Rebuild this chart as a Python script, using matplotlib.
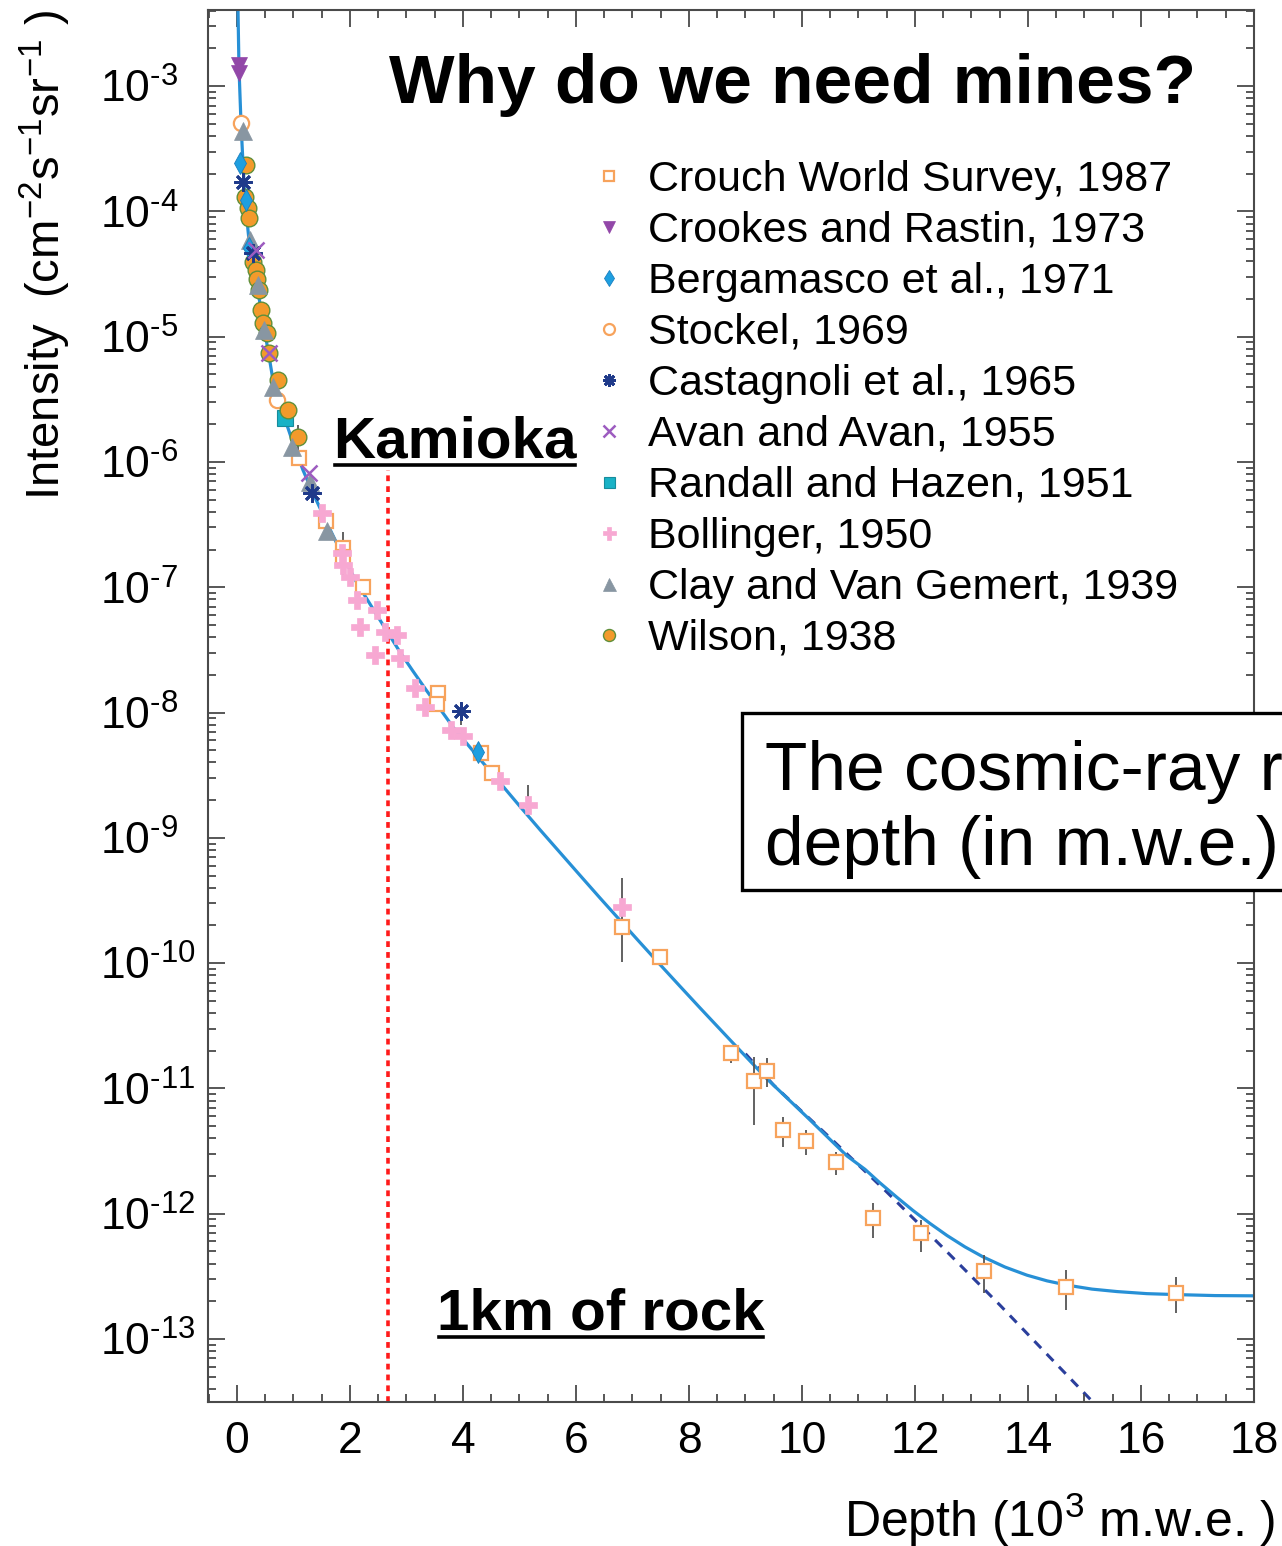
import math
import matplotlib
matplotlib.use("Agg")
import matplotlib.pyplot as plt
from matplotlib.lines import Line2D
from matplotlib.patches import Rectangle
from matplotlib.ticker import FixedLocator, LogLocator, MultipleLocator, NullFormatter, FuncFormatter

plt.rcParams['font.family'] = ['Liberation Sans', 'DejaVu Sans']
plt.rcParams['mathtext.fontset'] = 'custom'
plt.rcParams['mathtext.rm'] = 'Liberation Sans'
plt.rcParams['mathtext.it'] = 'Liberation Sans:italic'
plt.rcParams['mathtext.bf'] = 'Liberation Sans:bold'
plt.rcParams['axes.unicode_minus'] = False

# ---------------- data (depth in 10^3 m.w.e., intensity in cm^-2 s^-1 sr^-1) ----------------
curve_depth = [0.018, 0.035, 0.071, 0.106, 0.142, 0.230, 0.354, 0.460, 0.549, 0.637,
               0.814, 0.991, 1.168, 1.345, 1.593, 1.823, 2.124, 2.531, 2.885, 3.115,
               3.363, 3.593, 3.823, 4.124, 4.354, 4.655, 5.009, 5.363, 5.717, 6.071,
               6.425, 6.814, 7.133, 7.487, 7.841, 8.195, 8.726, 9.381, 10.088, 10.796,
               11.115, 11.381, 11.681, 11.965, 12.265, 12.566, 12.885, 13.204, 13.593,
               13.982, 14.336, 14.690, 15.133, 15.575, 16.106, 16.637, 17.310, 18.0]
curve_intensity = [4.05e-3, 1.42e-3, 5.07e-4, 2.43e-4, 1.23e-4, 4.91e-5, 2.58e-5, 1.31e-5,
                   7.82e-6, 4.51e-6, 2.45e-6, 1.42e-6, 8.61e-7, 5.65e-7, 3.25e-7, 1.98e-7,
                   1.08e-7, 5.47e-8, 3.04e-8, 2.14e-8, 1.48e-8, 1.07e-8, 7.66e-9, 5.28e-9,
                   3.97e-9, 2.75e-9, 1.78e-9, 1.16e-9, 7.63e-10, 5.02e-10, 3.31e-10, 2.11e-10,
                   1.46e-10, 9.74e-11, 6.53e-11, 4.39e-11, 2.44e-11, 1.19e-11, 5.91e-12,
                   2.89e-12, 2.26e-12, 1.76e-12, 1.35e-12, 1.06e-12, 8.36e-13, 6.70e-13,
                   5.43e-13, 4.52e-13, 3.75e-13, 3.23e-13, 2.91e-13, 2.69e-13, 2.50e-13,
                   2.39e-13, 2.30e-13, 2.26e-13, 2.22e-13, 2.21e-13]

# muons without the neutrino-induced floor
dashed_depth = [9.0, 9.5, 10.5, 11.5, 12.5, 13.5, 14.5, 15.2]
dashed_intensity = [1.89e-11, 1.06e-11, 4.02e-12, 1.49e-12, 5.32e-13, 1.87e-13, 6.32e-14, 2.97e-14]

crouch_depth = [1.097, 1.575, 1.876, 1.876, 2.230, 3.558, 3.540, 4.319, 4.513, 6.814, 7.487,
                8.743, 9.150, 9.381, 9.664, 10.071, 10.602, 11.257, 12.106, 13.221, 14.673, 16.619]
crouch_intensity = [1.07e-6, 3.37e-7, 2.06e-7, 1.74e-7, 1.00e-7, 1.43e-8, 1.17e-8, 4.75e-9,
                    3.29e-9, 1.94e-10, 1.12e-10, 1.92e-11, 1.15e-11, 1.38e-11, 4.66e-12,
                    3.80e-12, 2.59e-12, 9.25e-13, 7.02e-13, 3.49e-13, 2.60e-13, 2.33e-13]

crookes_depth = [0.035, 0.035]
crookes_intensity = [1.47e-3, 1.27e-3]

bergamasco_depth = [0.053, 0.159, 0.212, 4.265]
bergamasco_intensity = [2.43e-4, 1.23e-4, 5.09e-5, 4.84e-9]

stockel_depth = [0.071, 0.708]
stockel_intensity = [5.07e-4, 3.12e-6]

castagnoli_depth = [0.106, 0.283, 1.327, 3.965]
castagnoli_intensity = [1.71e-4, 4.65e-5, 5.65e-7, 1.03e-8]

avan_depth = [0.336, 0.566, 1.274]
avan_intensity = [4.91e-5, 7.40e-6, 8.15e-7]

randall_depth = [0.850]
randall_intensity = [2.24e-6]

bollinger_depth = [1.504, 1.858, 1.876, 2.000, 2.124, 2.478, 2.177, 2.619, 2.832, 2.442,
                   2.885, 3.150, 3.327, 3.788, 4.000, 4.655, 5.150, 6.814]
bollinger_intensity = [3.91e-7, 1.88e-7, 1.50e-7, 1.21e-7, 7.91e-8, 6.58e-8, 4.81e-8, 4.39e-8,
                       4.15e-8, 2.88e-8, 2.72e-8, 1.57e-8, 1.11e-8, 7.25e-9, 6.49e-9, 2.84e-9,
                       1.83e-9, 2.81e-10]

clay_depth = [0.106, 0.230, 0.372, 0.478, 0.637, 0.973, 1.292, 1.593]
clay_intensity = [4.38e-4, 5.90e-5, 2.58e-5, 1.13e-5, 3.96e-6, 1.32e-6, 6.92e-7, 2.81e-7]

wilson_depth = [0.159, 0.142, 0.195, 0.212, 0.283, 0.336, 0.354, 0.389, 0.425, 0.460,
                0.531, 0.566, 0.726, 0.903, 1.080]
wilson_intensity = [2.34e-4, 1.30e-4, 1.06e-4, 8.85e-5, 3.94e-5, 3.40e-5, 2.88e-5, 2.36e-5,
                    1.63e-5, 1.28e-5, 1.07e-5, 7.40e-6, 4.51e-6, 2.60e-6, 1.58e-6]

# vertical error bars
err_depth = [1.876, 6.814, 7.487, 8.743, 9.150, 9.381, 9.664, 10.071, 10.602, 11.257,
             12.106, 13.221, 14.673, 16.619, 5.150, 3.965, 1.080]
err_low = [1.18e-7, 1.02e-10, 9.66e-11, 1.60e-11, 5.11e-12, 1.03e-11, 3.40e-12, 2.94e-12,
           2.04e-12, 6.40e-13, 4.94e-13, 2.33e-13, 1.71e-13, 1.61e-13, 1.52e-9, 7.94e-9, 1.14e-6]
err_high = [2.76e-7, 4.78e-10, 1.27e-10, 1.92e-11, 1.78e-11, 1.75e-11, 5.92e-12, 4.66e-12,
            3.11e-12, 1.22e-12, 8.91e-13, 4.68e-13, 3.55e-13, 3.13e-13, 2.64e-9, 1.21e-8, 1.97e-6]

kamioka_depth = 2.67
kamioka_top = 8.6e-7

x_ticks = [0, 2, 4, 6, 8, 10, 12, 14, 16, 18]
y_tick_exponents = [-13, -12, -11, -10, -9, -8, -7, -6, -5, -4, -3]

# ---------------- figure ----------------
W, H = 1282, 1546
fig = plt.figure(figsize=(W / 100, H / 100), dpi=100)
fig.patch.set_facecolor('white')
ax = fig.add_axes([208 / W, 1 - 1402 / H, (1254 - 208) / W, (1402 - 10) / H])
ax.set_yscale('log')
ax.set_xlim(-0.513, 18.0)
ax.set_ylim(3.14e-14, 4.05e-3)

ax.plot(dashed_depth, dashed_intensity, color='#2b3f9c', lw=2.2, ls=(0, (3.2, 2.6)), zorder=1.5)
ax.plot(curve_depth, curve_intensity, color='#2790d6', lw=2.3, zorder=2,
        solid_joinstyle='round')
ax.vlines(kamioka_depth, 3.14e-14, kamioka_top, colors='#ff1a1a', lw=2.6,
          linestyles=(0, (1.6, 1.4)), zorder=1.8)
ax.vlines(err_depth, err_low, err_high, colors='#555555', lw=1.3, zorder=2.5)

styles = [
    ("Crouch World Survey, 1987", crouch_depth, crouch_intensity,
     dict(marker='s', ms=10.5, mfc='white', mec='#f7a35c', mew=1.6)),
    ("Crookes and Rastin, 1973", crookes_depth, crookes_intensity,
     dict(marker='v', ms=12, mfc='#9247a8', mec='#9247a8', mew=0.5)),
    ("Bergamasco et al., 1971", bergamasco_depth, bergamasco_intensity,
     dict(marker='d', ms=11, mfc='#1e9fe0', mec='#1a7fc0', mew=0.6)),
    ("Stockel, 1969", stockel_depth, stockel_intensity,
     dict(marker='o', ms=11, mfc='white', mec='#f7a35c', mew=1.6)),
    ("Castagnoli et al., 1965", castagnoli_depth, castagnoli_intensity,
     dict(marker=(8, 2, 0), ms=13, mfc='#1f3a8a', mec='#1f3a8a', mew=2.0)),
    ("Avan and Avan, 1955", avan_depth, avan_intensity,
     dict(marker='x', ms=12, mfc='#9d5cc0', mec='#9d5cc0', mew=1.8)),
    ("Randall and Hazen, 1951", randall_depth, randall_intensity,
     dict(marker='s', ms=11, mfc='#19b2c6', mec='#178c9c', mew=0.8)),
    ("Bollinger, 1950", bollinger_depth, bollinger_intensity,
     dict(marker='P', ms=13, mfc='#f7a8d2', mec='#f7a8d2', mew=0.5)),
    ("Clay and Van Gemert, 1939", clay_depth, clay_intensity,
     dict(marker='^', ms=13, mfc='#8896a2', mec='#8896a2', mew=0.5)),
    ("Wilson, 1938", wilson_depth, wilson_intensity,
     dict(marker='o', ms=12, mfc='#f39a2b', mec='#5f8f3a', mew=1.0)),
]

draw_order = [0, 7, 3, 6, 9, 8, 2, 4, 5, 1]
for z, i in enumerate(draw_order):
    label, xs, ys, st = styles[i]
    ax.plot(xs, ys, ls='none', zorder=3 + 0.1 * z, **st)

handles = []
for label, xs, ys, st in styles:
    st_small = dict(st)
    st_small['ms'] = st['ms'] * 0.72
    handles.append(Line2D([], [], ls='none', **st_small))
leg = ax.legend(handles, [s[0] for s in styles], loc='upper left',
                bbox_to_anchor=(592 / W, 1 - 160 / H), bbox_transform=fig.transFigure,
                frameon=False, fontsize=31, handlelength=0.78, handletextpad=0.52,
                labelspacing=0.255, borderpad=0, borderaxespad=0, numpoints=1)

# axes styling
for sp in ax.spines.values():
    sp.set_color('#4a4a4a')
    sp.set_linewidth(1.5)
ax.xaxis.set_major_locator(FixedLocator(x_ticks))
ax.xaxis.set_minor_locator(MultipleLocator(0.5))
ax.yaxis.set_major_locator(FixedLocator([10.0 ** e for e in y_tick_exponents]))
ax.yaxis.set_minor_locator(LogLocator(base=10, subs=[2, 3, 4, 5, 6, 7, 8, 9], numticks=30))
ax.yaxis.set_minor_formatter(NullFormatter())
ax.yaxis.set_major_formatter(FuncFormatter(
    lambda v, p: r'$\mathdefault{10^{%s}}$' % ('\u2010%d' % abs(round(math.log10(v))))))
ax.xaxis.set_major_formatter(FuncFormatter(lambda v, p: '%d' % v))
ax.tick_params(which='both', direction='in', top=True, right=True, color='#4a4a4a', width=1.3)
ax.tick_params(which='minor', length=6)
ax.tick_params(axis='x', which='major', length=12, labelsize=32, pad=14)
ax.tick_params(axis='y', which='major', length=12, labelsize=32, pad=(208 - 100) * 0.72)
for lab in ax.get_yticklabels():
    lab.set_horizontalalignment('left')

fig.text(1275 / W, 1 - 1537 / H, r'Depth (10$^{3}$ m.w.e. )', ha='right', va='baseline', fontsize=36)
fig.text(45 / W, 1 - 255 / H, r'Intensity  (cm$^{\mathdefault{-2}}$s$^{\mathdefault{-1}}$sr$^{\mathdefault{-1}}$ )',
         rotation=90, ha='center', va='center', fontsize=34)

fig.text(792 / W, 1 - 103 / H, 'Why do we need mines?', ha='center', va='baseline',
         fontsize=50, fontweight='bold')

# underlined annotations
k_txt = fig.text(333 / W, 1 - 458 / H, 'Kamioka', ha='left', va='baseline', fontsize=42, fontweight='bold')
r_txt = fig.text(437 / W, 1 - 1330 / H, '1km of rock', ha='left', va='baseline', fontsize=42, fontweight='bold')
fig.canvas.draw()
inv = fig.transFigure.inverted()
for t, ypx in ((k_txt, 465), (r_txt, 1337)):
    bb = t.get_window_extent()
    x0 = inv.transform((bb.x0 + 2, 0))[0]
    x1 = inv.transform((bb.x1 - 2, 0))[0]
    fig.add_artist(Line2D([x0, x1], [1 - ypx / H, 1 - ypx / H], color='black', lw=2.6,
                          transform=fig.transFigure))

# boxed note running off the right edge
fig.add_artist(Rectangle((742 / W, 1 - 890 / H), 600 / W, 177 / H, transform=fig.transFigure,
                         facecolor='white', edgecolor='black', lw=2.4, zorder=5))
fig.text(765 / W, 1 - 790 / H, 'The cosmic-ray rate vs', ha='left', va='baseline',
         fontsize=50, zorder=6)
fig.text(765 / W, 1 - 865 / H, 'depth (in m.w.e.)', ha='left', va='baseline',
         fontsize=50, zorder=6)

fig.savefig('out.png', dpi=100, facecolor='white')
